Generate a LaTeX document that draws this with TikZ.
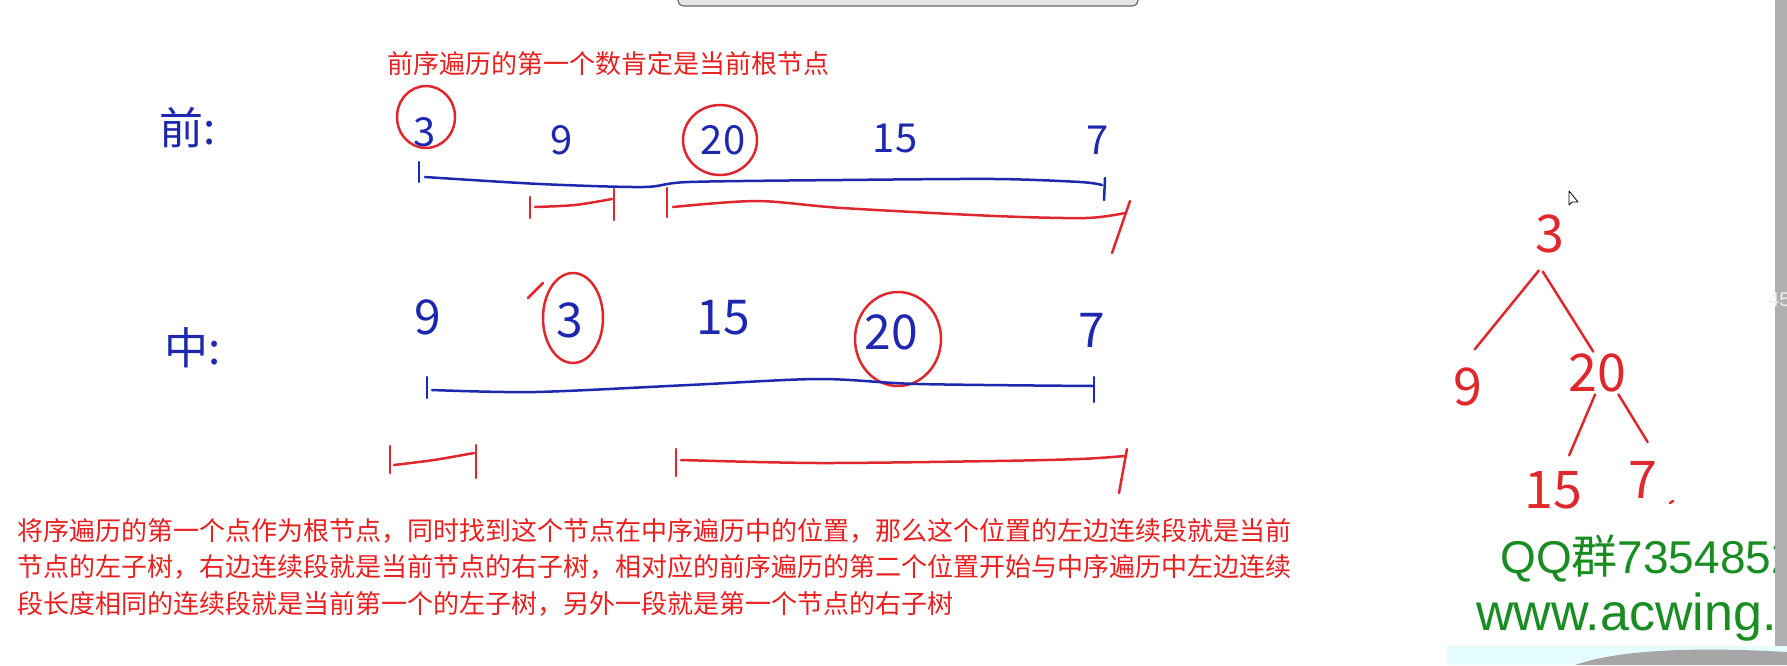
\documentclass[tikz,border=0pt]{standalone}
\usepackage{fontspec}
\setmainfont{Liberation Sans}
\newfontfamily\cjk{Noto Sans CJK SC}
\definecolor{inkblue}{RGB}{30,40,175}
\definecolor{inkred}{RGB}{222,40,45}
\definecolor{notered}{RGB}{232,32,32}
\definecolor{qqgreen}{RGB}{25,140,35}
\definecolor{scrollgray}{RGB}{175,175,175}

\begin{document}
\begin{tikzpicture}[x=1pt, y=-1pt, line cap=round, line join=round]
  \tikzset{blue pen/.style={draw=inkblue, line width=2.5pt},
           red pen/.style={draw=inkred, line width=2.5pt},
           hand/.style={inner sep=0pt, font=\cjk\fontsize{44}{44}\selectfont},
           pre digit/.style={hand, text=inkblue, font=\cjk\fontsize{40}{40}\selectfont},
           in digit/.style={hand, text=inkblue, font=\cjk\fontsize{48}{48}\selectfont},
           tree digit/.style={hand, text=inkred, circle, minimum size=76pt,
                              font=\cjk\fontsize{52}{52}\selectfont},
           note/.style={inner sep=0pt, text=notered, align=left,
                        font=\cjk\fontsize{26}{36.5}\selectfont},
           watermark/.style={inner sep=0pt, text=qqgreen}}
  \useasboundingbox (0,0) rectangle (1787,665);
  \fill[white] (0,0) rectangle (1787,665);

  % window tab at the top
  \draw[draw=gray!80!black, fill=gray!20, line width=1.2pt, rounded corners=6pt]
    (678,-12) rectangle (1138,6);

  \node[note, anchor=base west] (title) at (387,73) {前序遍历的第一个数肯定是当前根节点};

  % preorder
  \node[hand, text=inkblue] (lpre) at (188,128) {前:};
  \node[pre digit] (p3) at (425,132) {3};
  \node[pre digit] (p9) at (562,140) {9};
  \node[pre digit] (p20) at (723,140) {20};
  \node[pre digit] (p15) at (895,138) {15};
  \node[pre digit] (p7) at (1098,140) {7};
  \draw[red pen] (426,117) ellipse [x radius=29pt, y radius=31pt];
  \draw[red pen] (720,140) ellipse [x radius=37pt, y radius=35pt];
  \draw[blue pen] (419,162) -- (419,182);
  \draw[blue pen] plot[smooth] coordinates {(425,177) (540,184) (643,187) (689,182)
    (842,180) (995,179) (1080,182) (1102,185)};
  \draw[blue pen] (1105,178) -- (1104,200);
  \draw[red pen] (530,197) -- (530,218);
  \draw[red pen] plot[smooth] coordinates {(535,207) (575,205) (612,199)};
  \draw[red pen] (614,189) -- (614,220);
  \draw[red pen] (667,188) -- (667,217);
  \draw[red pen] plot[smooth] coordinates {(673,207) (757,201) (842,208) (995,216)
    (1086,218) (1125,213)};
  \draw[red pen] (1130,201) -- (1112,253);

  % inorder
  \node[hand, text=inkblue] (lin) at (193,348) {中:};
  \node[in digit] (m9) at (428,317) {9};
  \node[in digit] (m3) at (570,320) {3};
  \node[in digit] (m15) at (723,318) {15};
  \node[in digit] (m20) at (891,332) {20};
  \node[in digit] (m7) at (1092,330) {7};
  \draw[red pen] (573,318) ellipse [x radius=30pt, y radius=45pt];
  \draw[red pen] (528,298) -- (543,283);
  \draw[red pen] (898,339) ellipse [x radius=43pt, y radius=47pt];
  \draw[blue pen] (427,377) -- (427,398);
  \draw[blue pen] plot[smooth] coordinates {(432,390) (535,392) (689,385) (819,379)
    (918,384) (1094,386)};
  \draw[blue pen] (1094,377) -- (1094,402);
  \draw[red pen] (390,446) -- (390,473);
  \draw[red pen] plot[smooth] coordinates {(394,465) (434,460) (474,453)};
  \draw[red pen] (476,445) -- (476,478);
  \draw[red pen] (676,449) -- (676,476);
  \draw[red pen] plot[smooth] coordinates {(681,460) (819,463) (995,461) (1080,459)
    (1125,456)};
  \draw[red pen] (1127,449) -- (1119,493);

  \node[note, anchor=north west] (explain) at (17,518)
    {将序遍历的第一个点作为根节点，同时找到这个节点在中序遍历中的位置，那么这个位置的左边连续段就是当前\\
     节点的左子树，右边连续段就是当前节点的右子树，相对应的前序遍历的第二个位置开始与中序遍历中左边连续\\
     段长度相同的连续段就是当前第一个的左子树，另外一段就是第一个节点的右子树};

  % tree
  \node[tree digit] (t3) at (1550,234) {3};
  \node[tree digit] (t9) at (1468,387) {9};
  \node[tree digit, rectangle, minimum size=0pt, inner sep=2pt] (t20) at (1597,373) {20};
  \node[tree digit] (t15) at (1553,490) {15};
  \node[tree digit] (t7) at (1643,480) {7};
  \draw[red pen] (t3.-107) -- (t9.80);
  \draw[red pen] (t3.-101) -- (t20.100);
  \draw[red pen] (t20.-95) -- (t15.65);
  \draw[red pen] (t20.-45) -- (t7.83);
  \draw[red pen] (1670,503) -- (1673,501);

  % mouse pointer
  \draw[black, fill=white, line width=.8pt] (1569,191) -- (1569,205) -- (1572,202)
    -- (1578,202) -- cycle;

  % watermark, cut by the scroll bar
  \begin{scope}
    \clip (1400,500) rectangle (1775,646);
    \node[watermark, anchor=base west, font=\fontsize{46}{46}\selectfont] (qq) at (1500,573)
      {QQ{\cjk 群}7354852};
    \node[watermark, anchor=base west, font=\fontsize{52}{52}\selectfont] (site) at (1476,630)
      {www.acwing.com};
  \end{scope}
  \fill[scrollgray] (1775,0) rectangle (1787,646);
  \node[inner sep=0pt, anchor=west, text=white!88!gray, font=\fontsize{20}{20}\selectfont]
    (zoomtxt) at (1768,300) {450};
  % photo strip at the bottom
  \fill[blue!8!cyan!10] (1447,646) rectangle (1787,665);
  \fill[gray!70] (1575,665) .. controls (1620,649) and (1700,647) .. (1787,652)
    -- (1787,665) -- cycle;
\end{tikzpicture}
\end{document}
